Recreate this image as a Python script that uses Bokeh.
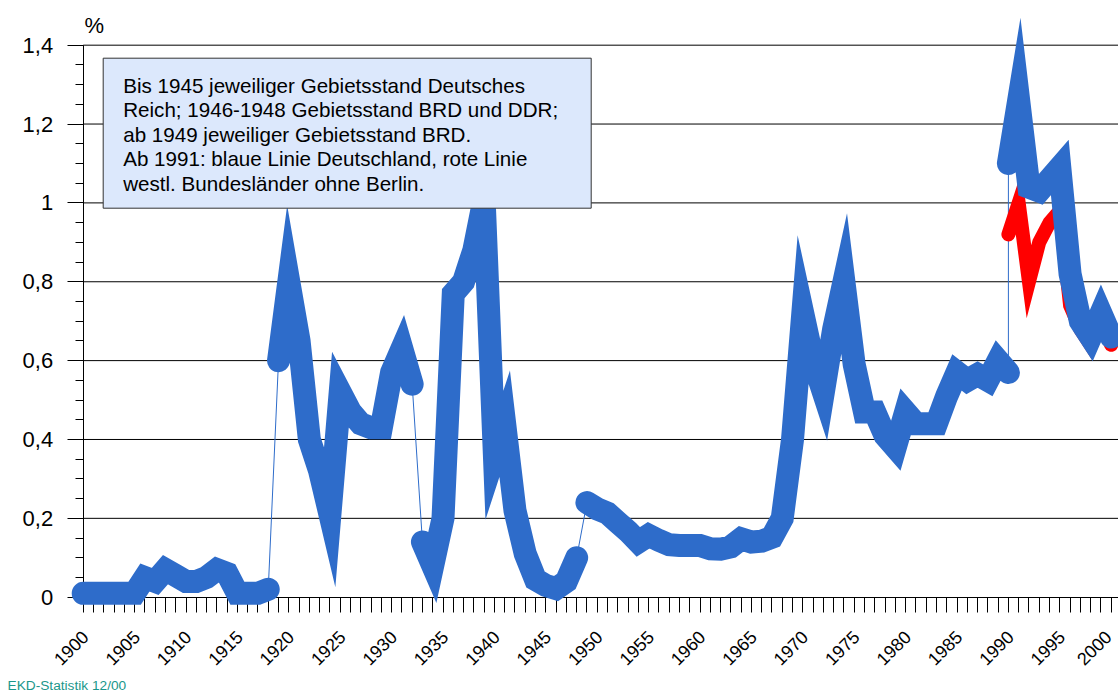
import math
from bokeh.plotting import figure
from bokeh.models import (Range1d, LinearAxis, FixedTicker, CustomJSTickFormatter,
                          BoxAnnotation, Label, ColumnDataSource)
from bokeh.core.properties import value
from bokeh.embed import file_html
from bokeh.resources import INLINE

# ---------------- data (% of members) ----------------
years_1900_1918 = list(range(1900, 1919))
rate_1900_1918 = [0.01, 0.01, 0.01, 0.01, 0.01, 0.01, 0.05, 0.04, 0.07, 0.055,
                  0.04, 0.04, 0.05, 0.07, 0.06, 0.01, 0.01, 0.01, 0.02]

years_1919_1932 = list(range(1919, 1933))
rate_1919_1932 = [0.60, 0.80, 0.65, 0.40, 0.32, 0.21, 0.52, 0.47, 0.44, 0.43,
                  0.43, 0.57, 0.63, 0.54]

years_1933_1948 = list(range(1933, 1949))
rate_1933_1948 = [0.14, 0.08, 0.20, 0.77, 0.80, 0.88, 1.01, 0.36, 0.44, 0.22,
                  0.11, 0.045, 0.03, 0.022, 0.04, 0.10]

years_1949_1990 = list(range(1949, 1991))
rate_1949_1990 = [0.24, 0.224, 0.213, 0.19, 0.167, 0.14, 0.157, 0.144, 0.133, 0.131,
                  0.131, 0.131, 0.123, 0.122, 0.128, 0.148, 0.14, 0.142, 0.152, 0.20,
                  0.40, 0.72, 0.60, 0.52, 0.68, 0.80, 0.59, 0.47, 0.47, 0.41,
                  0.38, 0.47, 0.44, 0.44, 0.44, 0.51, 0.57, 0.55, 0.565, 0.55,
                  0.60, 0.57]

years_1990_2000 = list(range(1990, 2001))
rate_germany_1990_2000 = [1.10, 1.26, 1.04, 1.03, 1.06, 1.09, 0.82, 0.70, 0.66, 0.72, 0.66]
rate_west_1990_2000 = [0.92, 1.00, 0.80, 0.90, 0.95, 0.98, 0.74, 0.68, 0.64, 0.70, 0.64]

blue_segments = [(years_1900_1918, rate_1900_1918),
                 (years_1919_1932, rate_1919_1932),
                 (years_1933_1948, rate_1933_1948),
                 (years_1949_1990, rate_1949_1990),
                 (years_1990_2000, rate_germany_1990_2000)]

label_years = list(range(1900, 2001, 5))
tick_years = list(range(1900, 2001))
y_ticks = [0, 0.2, 0.4, 0.6, 0.8, 1.0, 1.2, 1.4]
y_minor_ticks = [round(i * 0.05, 2) for i in range(29)]
grid_values = [0.2, 0.4, 0.6, 0.8, 1.0, 1.2, 1.4]

note_lines = ["Bis 1945 jeweiliger Gebietsstand Deutsches",
              "Reich; 1946-1948 Gebietsstand BRD und DDR;",
              "ab 1949 jeweiliger Gebietsstand BRD.",
              "Ab 1991: blaue Linie Deutschland, rote Linie",
              "westl. Bundesländer ohne Berlin."]
unit_text = "%"
source_text = "EKD-Statistik 12/00"

# ---------------- layout ----------------
W, H = 1118, 693
X0, SX = 82.7, 10.28     # page x of year 1900, px per year
Y0, SY = 596.7, 394.3    # page y of 0 %, px per 1 %
MID = 0.3465             # em-box middle above the baseline


def xd(px):
    return 1900 + (px - X0) / SX


def yd(py):
    return (Y0 - py) / SY


BLUE = "#2e6cca"
RED = "#ff0000"
FONT = "Liberation Sans"
x_end = xd(W)

p = figure(width=W, height=H,
           x_range=Range1d(xd(0), x_end), y_range=Range1d(yd(H), yd(0)),
           x_axis_type=None, y_axis_type=None,
           toolbar_location=None, output_backend="svg")
p.min_border_left = 0
p.min_border_right = 0
p.min_border_top = 0
p.min_border_bottom = 0
p.outline_line_color = None
p.background_fill_color = "white"
p.border_fill_color = "white"

# gridlines
p.segment(x0=1900, x1=x_end, y0=grid_values, y1=grid_values,
          line_color="black", line_width=1, level="underlay")

# axes
xaxis = LinearAxis(fixed_location=0, bounds=(1900, x_end),
                   ticker=FixedTicker(ticks=[], minor_ticks=tick_years),
                   major_tick_out=15, major_tick_in=0, minor_tick_out=15, minor_tick_in=0,
                   major_tick_line_color="black", minor_tick_line_color="black",
                   axis_line_color="black")
p.add_layout(xaxis, "below")

# x tick labels, rotated 45 degrees, ending just right of their tick
label_src = ColumnDataSource(dict(
    x=label_years, y=[0] * len(label_years),
    text=[str(y) for y in label_years],
    xoff=[2] * (len(label_years) - 1) + [-3]))
p.text(x="x", y="y", text="text", source=label_src, angle=math.pi / 4,
       text_align="right", text_baseline="middle", x_offset="xoff", y_offset=36.5,
       text_font=value(FONT), text_font_size=value("18px"), text_color="black")

yaxis = LinearAxis(fixed_location=1900, bounds=(0, 1.4),
                   ticker=FixedTicker(ticks=y_ticks, minor_ticks=y_minor_ticks),
                   formatter=CustomJSTickFormatter(
                       code="return tick.toFixed(1).replace('.0', '').replace('.', ',');"),
                   major_tick_out=16, major_tick_in=0, minor_tick_out=8, minor_tick_in=0,
                   major_tick_line_color="black", minor_tick_line_color="black",
                   axis_line_color="black", major_label_standoff=14,
                   major_label_text_font=FONT, major_label_text_font_size="22px",
                   major_label_text_color="black")
p.add_layout(yaxis, "left")

# thin connectors between the thick segments
cx, cy = [], []
for (ya, ra), (yb, rb) in zip(blue_segments[:-1], blue_segments[1:]):
    cx += [ya[-1], yb[0], float("nan")]
    cy += [ra[-1], rb[0], float("nan")]
p.line(cx, cy, line_color=BLUE, line_width=1, level="annotation")

# red line: western Länder without Berlin
p.line(years_1990_2000, rate_west_1990_2000, line_color=RED, line_width=14,
       line_cap="round", line_join="miter", level="annotation")

# thick blue segments
for yrs, vals in blue_segments:
    p.line(yrs, vals, line_color=BLUE, line_width=23,
           line_cap="round", line_join="miter", level="annotation")

# note box
p.add_layout(BoxAnnotation(left=xd(102.7), right=xd(590.7), top=yd(57.7), bottom=yd(207.7),
                           fill_color="#dce8fc", fill_alpha=1.0,
                           line_color="#333333", line_alpha=1.0, line_width=1,
                           line_dash="solid", level="overlay"))
NOTE_FS = 20.6
for i, line in enumerate(note_lines):
    base = 91.7 + 24.6 * i
    p.add_layout(Label(x=xd(122.7), y=yd(base - MID * NOTE_FS), text=line,
                       text_font=FONT, text_font_size=f"{NOTE_FS}px", text_color="black",
                       text_align="left", text_baseline="middle", level="overlay"))

p.add_layout(Label(x=xd(84), y=yd(33 - MID * 22), text=unit_text, text_font=FONT,
                   text_font_size="22px", text_color="black",
                   text_align="left", text_baseline="middle"))
p.add_layout(Label(x=xd(7), y=yd(689.5 - MID * 13.7), text=source_text, text_font=FONT,
                   text_font_size="13.7px", text_color="#1b978b",
                   text_align="left", text_baseline="middle"))

open("out.html", "w").write(file_html(p, INLINE))
